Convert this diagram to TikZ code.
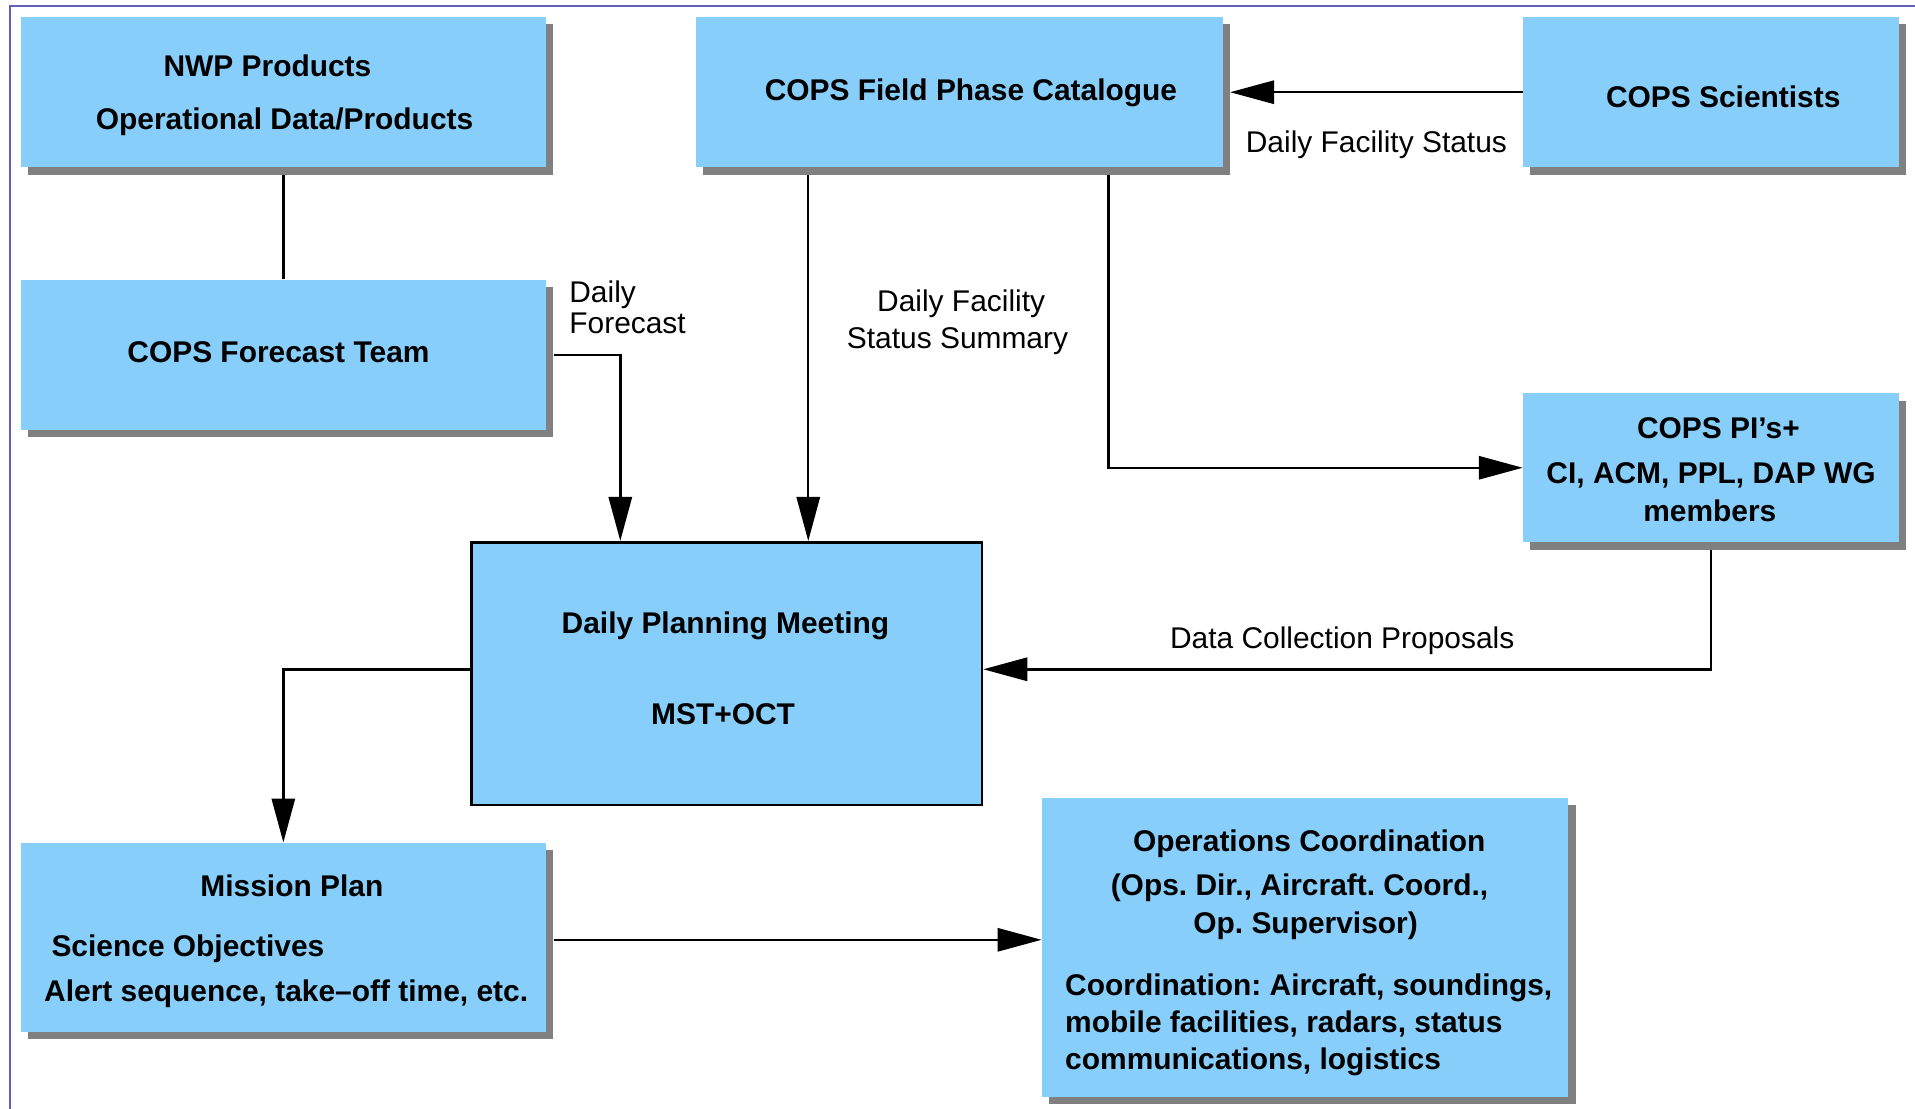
\documentclass[tikz,border=0pt]{standalone}
\usepackage{fontspec}
\setmainfont{Liberation Sans}
\usetikzlibrary{arrows.meta,calc,shadows}
\definecolor{boxblue}{RGB}{135,206,250}
\definecolor{frameblue}{RGB}{96,96,180}
\definecolor{shadowgray}{RGB}{128,128,128}
\frenchspacing
\begin{document}
\begin{tikzpicture}[x=1pt,y=-1pt,
  every node/.style={font=\fontsize{24.5}{29}\selectfont\frenchspacing},
  box/.style={rectangle, fill=boxblue, inner sep=0pt,
    drop shadow={shadow xshift=6pt, shadow yshift=-6pt, fill=shadowgray, opacity=1}},
  meetbox/.style={rectangle, fill=boxblue, draw=black, line width=2.2pt, inner sep=0pt},
  btxt/.style={inner sep=0pt, anchor=base, font=\fontsize{24.5}{29}\selectfont\bfseries\frenchspacing},
  btxtl/.style={btxt, anchor=base west},
  ltxt/.style={inner sep=0pt, anchor=base},
  ltxtl/.style={ltxt, anchor=base west},
  conn/.style={line width=2pt, draw=black},
  arr/.style={conn, -{Triangle[length=36pt,width=19pt]}}
]
\useasboundingbox (0,0) rectangle (1568,908);
\fill[white] (0,0) rectangle (1568,908);
\draw[frameblue, line width=1.5pt] (8.4,908) -- (8.4,4.7) -- (1568,4.7);

% boxes
\node[box, minimum width=430, minimum height=123] (nwp) at (232,75.5) {};
\node[box, minimum width=431, minimum height=123] (cat) at (785.5,75.5) {};
\node[box, minimum width=308, minimum height=123] (sci) at (1401,75.5) {};
\node[box, minimum width=430, minimum height=123] (fc) at (232,290.5) {};
\node[box, minimum width=308, minimum height=122] (pi) at (1401,383) {};
\node[meetbox, minimum width=418, minimum height=215] (dpm) at (595,551.5) {};
\node[box, minimum width=430, minimum height=155] (mp) at (232,767.5) {};
\node[box, minimum width=431, minimum height=245] (ops) at (1068.5,775.5) {};

% box texts
\node[btxt] (nwpA) at (219,63) {NWP Products};
\node[btxt] (nwpB) at (233,106) {Operational Data/Products};
\node[btxt] (catA) at (795,82) {COPS Field Phase Catalogue};
\node[btxt] (sciA) at (1411,88) {COPS Scientists};
\node[btxt] (fcA) at (228,297) {COPS Forecast Team};
\node[btxt] (piA) at (1407,359) {COPS PI’s+};
\node[btxt] (piB) at (1401,396) {CI, ACM, PPL, DAP WG};
\node[btxt] (piC) at (1400,427) {members};
\node[btxt] (dpmA) at (594,519) {Daily Planning Meeting};
\node[btxt] (dpmB) at (592,593) {MST+OCT};
\node[btxt] (mpA) at (239,734) {Mission Plan};
\node[btxtl] (mpB) at (42,783) {Science Objectives};
\node[btxtl] (mpC) at (36,820) {Alert sequence, take–off time, etc.};
\node[btxt] (opsA) at (1072,697) {Operations Coordination};
\node[btxt] (opsB) at (1064,733) {(Ops. Dir., Aircraft. Coord.,};
\node[btxt] (opsC) at (1069,764) {Op. Supervisor)};
\node[btxtl] (opsD) at (872,815) {Coordination: Aircraft, soundings,};
\node[btxtl] (opsE) at (872,845) {mobile facilities, radars, status};
\node[btxtl] (opsF) at (872,876) {communications, logistics};

% connector labels
\node[ltxtl] (lfA) at (466,248) {Daily};
\node[ltxtl] (lfB) at (466,273) {Forecast};
\node[ltxt] (lsA) at (787,255) {Daily Facility};
\node[ltxt] (lsB) at (784,285) {Status Summary};
\node[ltxt] (ldfs) at (1127,125) {Daily Facility Status};
\node[ltxt] (ldcp) at (1099,531) {Data Collection Proposals};

% connectors
\draw[conn] ($(nwp.south)+(0,6)$) -- (fc.north);
\draw[arr] ($(fc.east)+(6,0)$) -| ($(dpm.north west)+(123,0)$);
\coordinate (c1) at ($(cat.south west)+(92,6)$);
\draw[arr] (c1) -- (c1 |- dpm.north);
\draw[arr] (sci.west) -- ($(cat.east)+(6,0)$);
\draw[arr] ($(cat.south west)+(338,6)$) |- (pi.west);
\draw[arr] ($(pi.south)+(0,6)$) |- ($(dpm.east)+(0,-3.5)$);
\draw[arr] ($(dpm.west)+(0,-3.5)$) -| (mp.north);
\draw[arr] ($(mp.east)+(6,2)$) -- ($(ops.west)+(0,-6)$);
\end{tikzpicture}
\end{document}
